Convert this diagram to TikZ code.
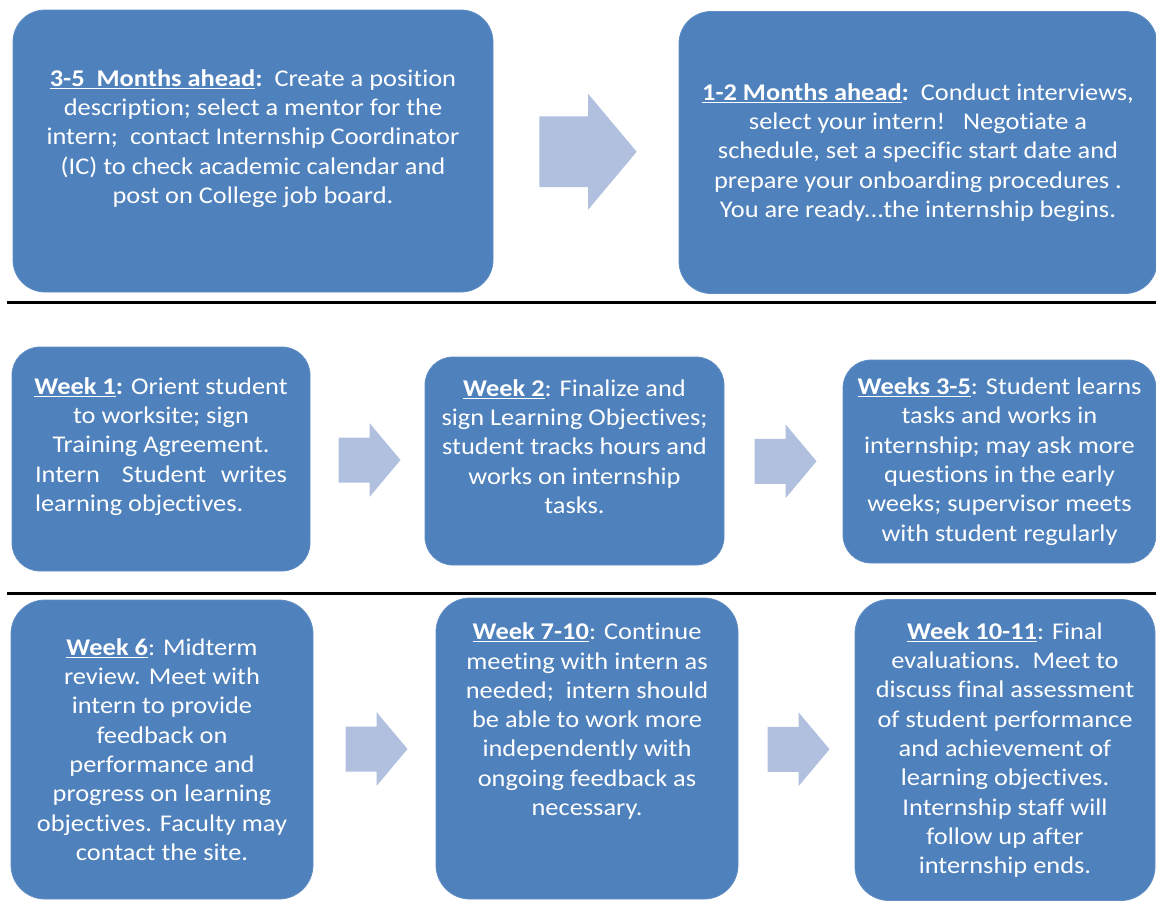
\documentclass[tikz,border=0pt]{standalone}
\usepackage{fontspec}
\setmainfont{Carlito}[FakeStretch=1.1, Ligatures=NoCommon]
\usetikzlibrary{calc}
\usetikzlibrary{positioning}

\definecolor{boxblue}{RGB}{79,129,189}
\definecolor{arrowblue}{RGB}{176,192,222}

\newcommand{\hd}[1]{\underline{\textbf{#1}}}
% block arrow centred in the gap between two boxes
\newcommand{\gaparrow}[3][1]{%
  \fill[arrowblue, shift={($(#2.east)!0.5!(#3.west)+(2,0)$)}, scale=#1]
    (-31,-22.5) -- (0,-22.5) -- (0,-37) -- (31,0) -- (0,37) -- (0,22.5) -- (-31,22.5) -- cycle;}

\tikzset{
  stepbox/.style={rectangle, rounded corners=#1, fill=boxblue, draw=boxblue!90!white,
    line width=0.8pt, inner sep=0pt, outer sep=0pt, text=white, align=center,
    font={\fontsize{24}{29.3}\selectfont}},
  stepbox/.default=30pt,
  rowline/.style={line width=3pt, black}
}

\begin{document}
\begin{tikzpicture}[x=1pt, y=-1pt]
  \useasboundingbox (0,0) rectangle (1156,903);

  % months ahead
  \node[stepbox=32pt, minimum width=480pt, minimum height=282pt] (ahead35) at (253,151)
    {\hd{3-5\ \ Months ahead}\textbf{:}\ \ Create a position\\
     description; select a mentor for the\\
     intern;\ \ contact Internship Coordinator\\
     (IC) to check academic calendar and\\
     post on College job board.\\ \mbox{}};
  \node[stepbox=32pt, minimum width=478pt, minimum height=282pt] (ahead12) at (918,152.5)
    {\hd{1-2 Months ahead}\textbf{:}\ \ Conduct interviews,\\
     select your intern!\ \ \ Negotiate a\\
     schedule, set a specific start date and\\
     prepare your onboarding procedures .\\
     You are ready...the internship begins.};
  \gaparrow[1.57]{ahead35}{ahead12}

  \draw[rowline] (7,302) -- (1156,302);

  % weeks 1 to 5
  \node[stepbox=28pt, minimum width=298pt, minimum height=224pt] (week1) at (161,459)
    {\hd{Week 1}\textbf{:} Orient student\\
     to worksite; sign\\
     Training Agreement.\\
     \makebox[252pt][s]{Intern\hfill\hfill\hfill Student\hfill\hfill writes}\\
     \makebox[252pt][l]{learning objectives.}\\ \mbox{}};
  \node[stepbox=28pt, minimum width=299pt, minimum height=208pt] (week2) at (574.5,461)
    {\hd{Week 2}: Finalize and\\
     sign Learning Objectives;\\
     student tracks hours and\\
     works on internship\\
     tasks.\\ \mbox{}};
  \node[stepbox=28pt, minimum width=313pt, minimum height=203pt] (week35) at (999.5,461.5)
    {\hd{Weeks 3-5}: Student learns\\
     tasks and works in\\
     internship; may ask more\\
     questions in the early\\
     weeks; supervisor meets\\
     with student regularly};
  \gaparrow{week1}{week2}
  \gaparrow{week2}{week35}

  \draw[rowline] (7,593) -- (1156,593);

  % weeks 6 to 11
  \node[stepbox=34pt, minimum width=302pt, minimum height=299pt] (week6) at (162,749.5)
    {\hd{Week 6}: Midterm\\
     review. Meet with\\
     intern to provide\\
     feedback on\\
     performance and\\
     progress on learning\\
     objectives. Faculty may\\
     contact the site.};
  \node[stepbox=34pt, minimum width=302pt, minimum height=301pt] (week710) at (587,748.5)
    {\hd{Week 7-10}: Continue\\
     meeting with intern as\\
     needed;\ \ intern should\\
     be able to work more\\
     independently with\\
     ongoing feedback as\\
     necessary.\\ \mbox{}\\ \mbox{}};
  \node[stepbox=34pt, minimum width=300pt, minimum height=301pt] (week1011) at (1005,750)
    {\hd{Week 10-11}: Final\\
     evaluations.\ \ Meet to\\
     discuss final assessment\\
     of student performance\\
     and achievement of\\
     learning objectives.\\
     Internship staff will\\
     follow up after\\
     internship ends.};
  \gaparrow{week6}{week710}
  \gaparrow{week710}{week1011}
\end{tikzpicture}
\end{document}
